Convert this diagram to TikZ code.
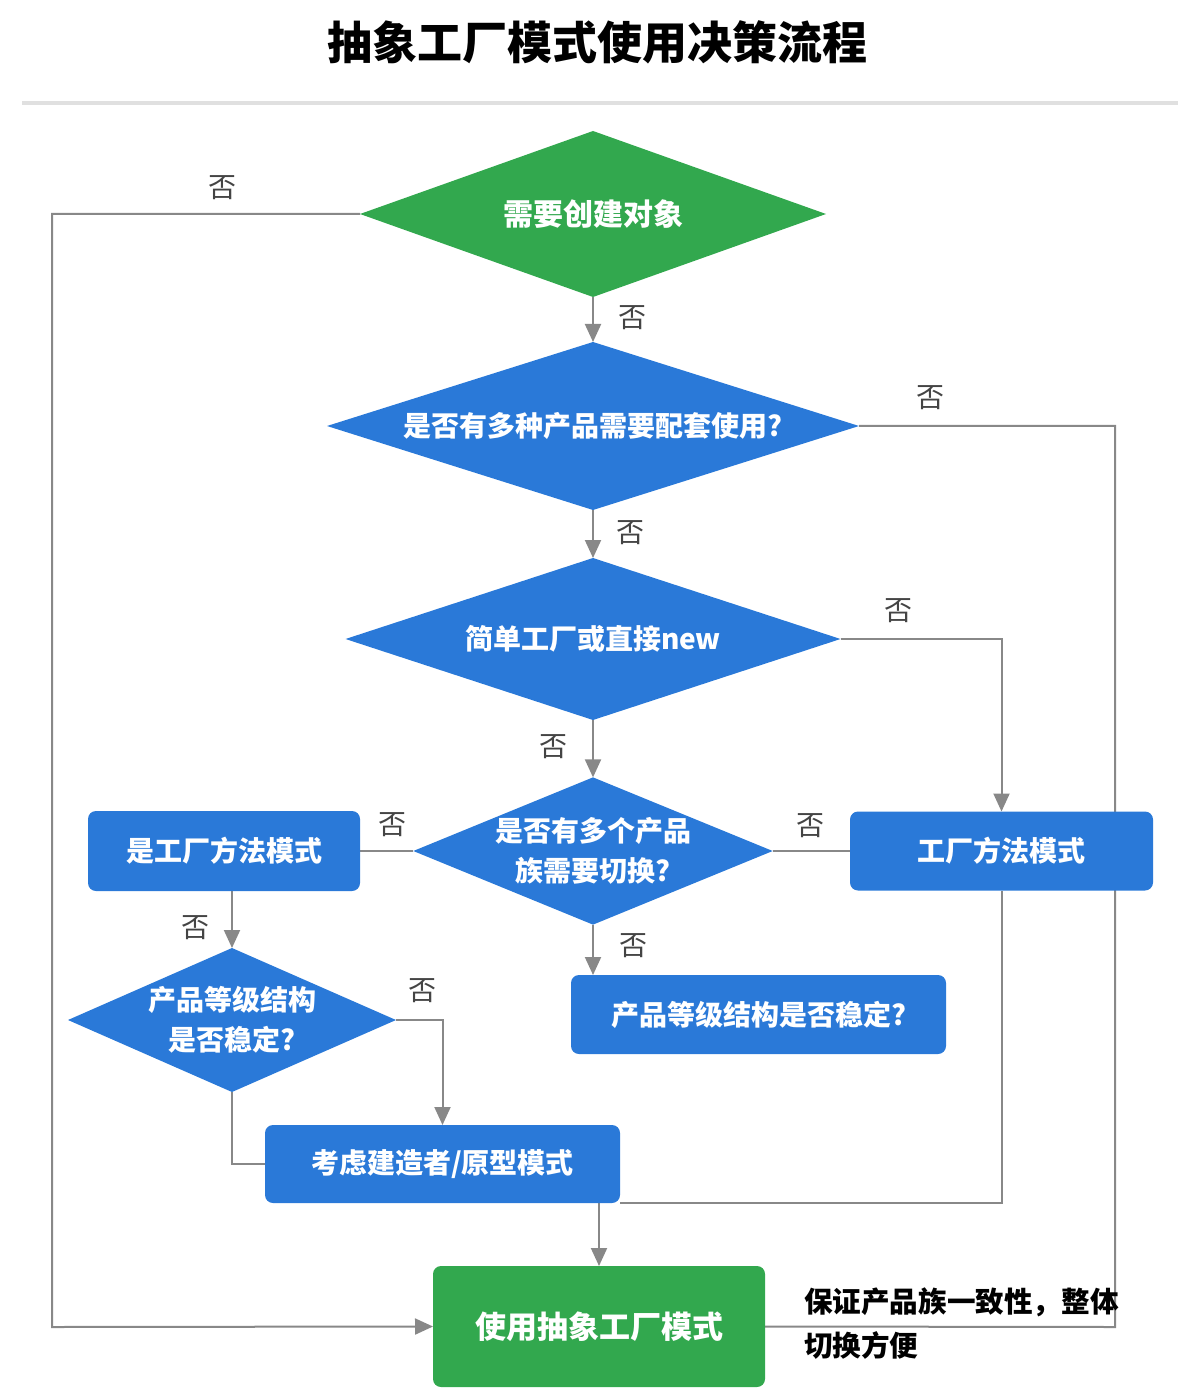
\documentclass[tikz,border=0pt]{standalone}
\usepackage{fontspec}
\setmainfont{Noto Sans CJK SC}
\usepackage{xcolor}
\usepackage{tikz}
\usetikzlibrary{shapes.geometric, arrows.meta}

\pgfdeclarelayer{background}
\pgfsetlayers{background,main}

\definecolor{flowgreen}{RGB}{50,168,78}
\definecolor{flowblue}{RGB}{42,121,216}
\definecolor{flowline}{RGB}{136,136,136}
\definecolor{labelgray}{RGB}{68,68,68}

\tikzset{
    decision/.style={diamond, fill=flowblue, inner sep=0pt, outer sep=0pt, text=white,
        align=center, font=\fontsize{14}{20}\selectfont\bfseries},
    startdecision/.style={decision, fill=flowgreen, font=\fontsize{15}{20}\selectfont\bfseries},
    process/.style={rectangle, rounded corners=4pt, fill=flowblue, inner sep=0pt, outer sep=0pt,
        text=white, font=\fontsize{14}{20}\selectfont\bfseries},
    result/.style={process, fill=flowgreen, font=\fontsize{15.5}{20}\selectfont\bfseries},
    nolabel/.style={text=labelgray, font=\fontsize{14}{17}\selectfont},
    flow/.style={draw=flowline, line width=1pt},
    flowarrow/.style={flow, -{Triangle[length=9pt, width=8pt]}},
}

\begin{document}
\begin{tikzpicture}[x=0.5pt, y=-0.5pt]
        \useasboundingbox (0,0) rectangle (1200,1400);

        \node[font=\fontsize{22.5}{26}\selectfont\bfseries] (title) at (597,42) {抽象工厂模式使用决策流程};
        \draw[draw=black!12, line width=2pt] (22,103) -- (1178,103);

        \node[startdecision, minimum width=233pt, minimum height=83pt, aspect=2.81] (need) at (593,214) {需要创建对象};
        \node[decision, minimum width=266pt, minimum height=84pt, aspect=3.17] (multi) at (593,426) {是否有多种产品需要配套使用?};
        \node[decision, minimum width=247.5pt, minimum height=81pt, aspect=3.06] (simple) at (593,639) {简单工厂或直接new};
        \node[decision, minimum width=179.5pt, minimum height=73.5pt, aspect=2.44] (family) at (593,851) {是否有多个产品\\族需要切换?};
        \node[process, minimum width=136pt, minimum height=40pt] (isfm) at (224,851) {是工厂方法模式};
        \node[process, minimum width=151.5pt, minimum height=39.5pt] (fm) at (1001.5,851) {工厂方法模式};
        \node[decision, minimum width=164pt, minimum height=72pt, aspect=2.28] (stable) at (232,1020) {产品等级结构\\是否稳定?};
        \node[process, minimum width=187.5pt, minimum height=39.5pt] (stablebox) at (758.5,1014.5) {产品等级结构是否稳定?};
        \node[process, minimum width=177.5pt, minimum height=39pt] (builder) at (442.5,1164) {考虑建造者/原型模式};
        \node[result, minimum width=166pt, minimum height=60.5pt] (abstract) at (599,1326.5) {使用抽象工厂模式};
        \node[anchor=west, align=left, font=\fontsize{14.3}{22}\selectfont\bfseries] (benefit) at (797,1324) {保证产品族一致性，整体\\切换方便};

        \coordinate (railL) at (52,1327);
        \coordinate (railR) at (1115,1327);

        \node[nolabel] (no1) at (222,188) {否};
        \node[nolabel] (no2) at (632,318) {否};
        \node[nolabel] (no3) at (930,398) {否};
        \node[nolabel] (no4) at (630,533) {否};
        \node[nolabel] (no5) at (898,611) {否};
        \node[nolabel] (no6) at (553,747) {否};
        \node[nolabel] (no7) at (392,825) {否};
        \node[nolabel] (no8) at (810,826) {否};
        \node[nolabel] (no9) at (195,928) {否};
        \node[nolabel] (no10) at (422,991) {否};
        \node[nolabel] (no11) at (633,946) {否};

        \begin{pgfonlayer}{background}
        \draw[flowarrow] (need.south) -- (multi.north);
        \draw[flowarrow] (multi.south) -- (simple.north);
        \draw[flowarrow] (simple.south) -- (family.north);
        \draw[flowarrow] (simple.east) -| (fm.north);
        \draw[flowarrow] (family.south) -- (family.south |- stablebox.north);
        \draw[flowarrow] (stable.north |- isfm.south) -- (stable.north);
        \draw[flowarrow] (stable.east) -| (builder.north);
        \draw[flowarrow] (abstract.north |- builder.south) -- (abstract.north);
        \draw[flowarrow] (need.west) -| (railL) -- (abstract.west);
        \draw[flow] (multi.east) -| (railR) -- (abstract.east);
        \draw[flow] (family.west) -- (isfm.east);
        \draw[flow] (family.east) -- (fm.west);
        \draw[flow] (fm.south) |- (builder.south east);
        \draw[flow] (stable.south) |- (builder.west);
        \end{pgfonlayer}
\end{tikzpicture}
\end{document}
